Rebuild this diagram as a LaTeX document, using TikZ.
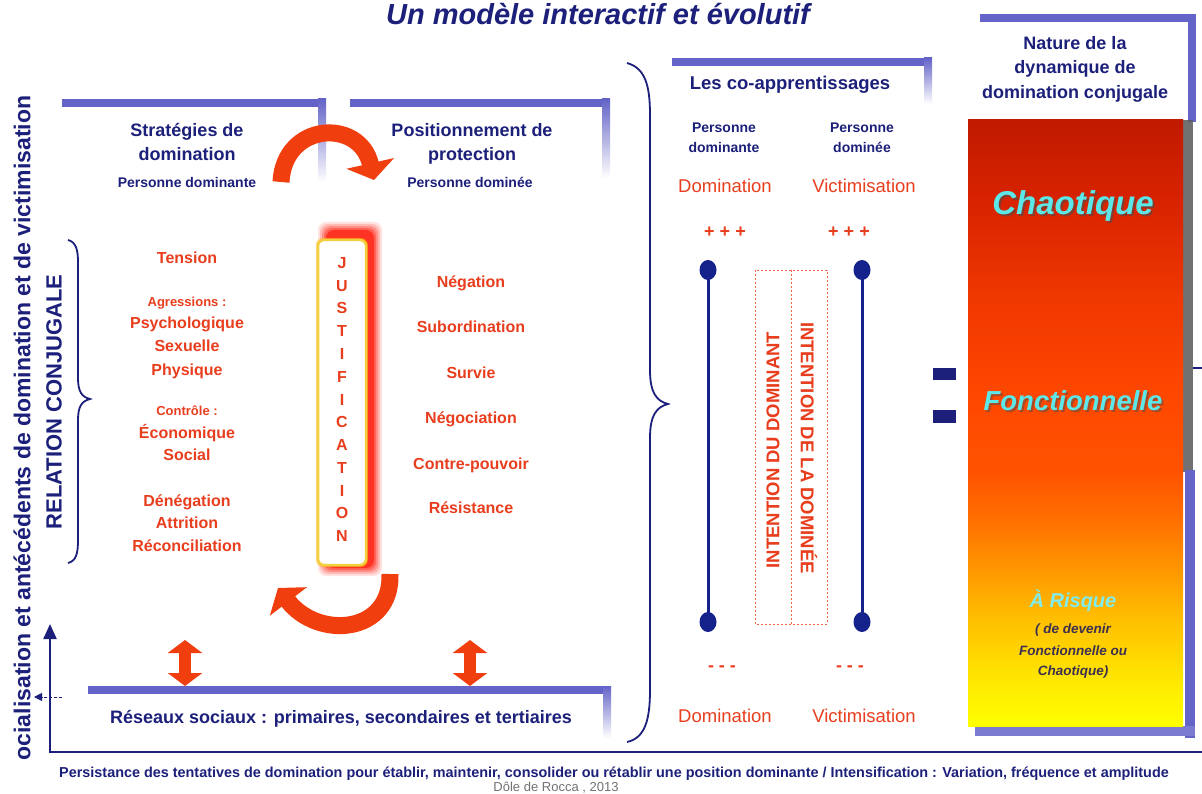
\documentclass[tikz,border=0pt]{standalone}
\usepackage{fontspec}
\setmainfont{Liberation Sans}
\usetikzlibrary{arrows.meta,calc}
\definecolor{navy}{RGB}{28,32,122}
\definecolor{navyd}{RGB}{22,34,140}
\definecolor{lav}{RGB}{100,100,200}
\definecolor{redtxt}{RGB}{232,62,30}
\definecolor{arr}{RGB}{240,62,14}
\definecolor{cyantxt}{RGB}{92,232,232}
\definecolor{cyanpale}{RGB}{130,236,236}
\definecolor{darkit}{RGB}{60,48,80}
\definecolor{jbord}{RGB}{242,208,64}
\definecolor{c0}{RGB}{255,255,0}
\definecolor{c1}{RGB}{255,232,0}
\definecolor{c2}{RGB}{255,192,0}
\definecolor{c3}{RGB}{255,144,0}
\definecolor{c4}{RGB}{255,112,0}
\definecolor{c5}{RGB}{255,82,0}
\definecolor{c6}{RGB}{255,72,0}
\definecolor{c7}{RGB}{240,56,0}
\definecolor{c8}{RGB}{216,34,0}
\definecolor{c9}{RGB}{192,26,0}
\pgfdeclareverticalshading{heat}{100bp}{color(0bp)=(c0); color(25bp)=(c0); color(28.7bp)=(c1); color(33.7bp)=(c2); color(38.65bp)=(c3); color(41.95bp)=(c4); color(46.05bp)=(c5); color(51.85bp)=(c6); color(60.1bp)=(c7); color(68.4bp)=(c8); color(75bp)=(c9); color(100bp)=(c9)}
\newcommand{\fsz}[1]{\fontsize{#1}{#1}\selectfont}
\tikzset{
  every node/.style={inner sep=0pt, outer sep=0pt},
  hdr/.style={text=navy, font=\bfseries\fsz{18}, anchor=base},
  pers/.style={text=navy, font=\bfseries\fsz{14}, anchor=base},
  itm/.style={text=redtxt, font=\bfseries\fsz{16}, anchor=base},
  itms/.style={text=redtxt, font=\bfseries\fsz{13}, anchor=base},
  redreg/.style={text=redtxt, font=\fsz{18.5}, anchor=base},
  sign/.style={text=redtxt, font=\bfseries\fsz{18}, anchor=base},
  jl/.style={text=redtxt, font=\bfseries\fsz{16}, anchor=base},
  brkline/.style={draw=lav, line width=8, line cap=butt},
  curl/.style={draw=arr, line width=17},
  brace/.style={draw=navy, line width=1.8},
  dotline/.style={draw=navyd, line width=3},
}
\begin{document}
\begin{tikzpicture}[x=1pt,y=-1pt]
\useasboundingbox (0,0) rectangle (1202,794);
\clip (0,0) rectangle (1202,794);
\fill[white] (0,0) rectangle (1202,794);

% title
\node[anchor=base, text=navy, font=\bfseries\itshape\fsz{29}] (title) at (598,25) {Un modèle interactif et évolutif};

% left vertical text
\node[rotate=90, text=navy, font=\bfseries\fsz{23}] (soc) at (22,428) {ocialisation et antécédents de domination et de victimisation};

% axes
\coordinate (O) at (50,752);
\coordinate (Ytop) at (50,624);
\coordinate (Xend) at (1202,752);
\draw[navy, line width=2.2, -{Triangle[width=13pt,length=15pt]}] (O) -- (Ytop);
\draw[navy, line width=2.2] (48.9,752) -- (Xend);
\coordinate (da1) at (62,697);
\coordinate (da2) at (34,697);
\draw[navy, densely dashed, line width=1, -{Triangle[width=8pt,length=8pt]}] (da1) -- (da2);

% lavender brackets
\draw[brkline] (62,103) -- (326,103);
\shade[top color=lav, bottom color=white] (318,99) rectangle (326,182);
\draw[brkline] (350,103) -- (610,103);
\shade[top color=lav, bottom color=white] (602,99) rectangle (610,178);
\draw[brkline] (672,62) -- (932,62);
\shade[top color=lav, bottom color=white] (924,58) rectangle (932,104);
\draw[brkline] (88,690) -- (611,690);
\shade[top color=lav, bottom color=white] (603,686) rectangle (611,738);
\draw[brkline] (980,18) -- (1196,18);
\fill[lav] (1188,14) rectangle (1196,122);

% right column
\fill[black!65, opacity=.85] (1183,120) rectangle (1193,472);
\fill[lav] (1185,470) rectangle (1195,738);
\fill[lav!85] (975,726) rectangle (1195,736);
\shade[shading=heat] (968,120) rectangle (1183,726);
\coordinate (rl1) at (1193,368);
\coordinate (rl2) at (1202,368);
\draw[navy, line width=1.5] (rl1) -- (rl2);

\node[hdr] (n1) at (1075,50) {Nature de la};
\node[hdr] (n2) at (1075,74) {dynamique de};
\node[hdr] (n3) at (1075,98.5) {domination conjugale};

\node[anchor=base, text=black!70, opacity=.6, font=\bfseries\itshape\fsz{33}] (chs) at (1075,217) {Chaotique};
\node[anchor=base, text=cyantxt, font=\bfseries\itshape\fsz{33}] (ch) at (1073,215) {Chaotique};
\node[anchor=base, text=black!70, opacity=.5, font=\bfseries\itshape\fsz{27.5}] (fos) at (1075,412) {Fonctionnelle};
\node[anchor=base, text=cyantxt, font=\bfseries\itshape\fsz{27.5}] (fo) at (1073,410) {Fonctionnelle};
\node[anchor=base, text=cyanpale, font=\bfseries\itshape\fsz{20}] (ar) at (1073,607) {À Risque};
\node[anchor=base, text=darkit, font=\bfseries\itshape\fsz{13.5}] (ar1) at (1073,633) {( de devenir};
\node[anchor=base, text=darkit, font=\bfseries\itshape\fsz{13.5}] (ar2) at (1073,655) {Fonctionnelle ou};
\node[anchor=base, text=darkit, font=\bfseries\itshape\fsz{13.5}] (ar3) at (1073,675) {Chaotique)};

% equals
\fill[navy] (933,368) rectangle (956,380);
\fill[navy] (933,410) rectangle (956,423);

% left panel headers
\node[hdr] (s1) at (187,137) {Stratégies de};
\node[hdr] (s2) at (187,161) {domination};
\node[pers] (s3) at (187,188) {Personne dominante};
\node[hdr] (p1) at (472,137) {Positionnement de};
\node[hdr] (p2) at (472,161) {protection};
\node[pers] (p3) at (470,188) {Personne dominée};

% curved arrows
\coordinate (ta1) at (281,182);
\coordinate (ta2) at (374,180);
\draw[curl, -{Triangle[width=48pt,length=17pt]}] (ta1) .. controls (284,122) and (360,118) .. (ta2);
\coordinate (ba1) at (390,574);
\coordinate (ba2) at (278,588);
\draw[curl, -{Triangle[width=46pt,length=17pt]}] (ba1) .. controls (392,634) and (318,640) .. (ba2);

% RELATION CONJUGALE + brace
\node[rotate=90, text=navy, font=\bfseries\fsz{22}] (rc) at (54,402) {RELATION CONJUGALE};
\draw[brace] (68,240) .. controls (76,242) and (78,250) .. (78,262) -- (78,378) .. controls (78,392) and (82,397) .. (90,399) .. controls (82,401) and (78,406) .. (78,420) -- (78,540) .. controls (78,554) and (76,561) .. (68,563);

% left list
\node[itm] (l1) at (187,264) {Tension};
\node[itms] (l2) at (187,307) {Agressions :};
\node[itm] (l3) at (187,329) {Psychologique};
\node[itm] (l4) at (187,352) {Sexuelle};
\node[itm] (l5) at (187,375) {Physique};
\node[itms] (l6) at (187,415) {Contrôle :};
\node[itm] (l7) at (187,438) {Économique};
\node[itm] (l8) at (187,460) {Social};
\node[itm] (l9) at (187,506) {Dénégation};
\node[itm] (l10) at (187,528) {Attrition};
\node[itm] (l11) at (187,551) {Réconciliation};

% right list
\node[itm] (r1) at (471,288) {Négation};
\node[itm] (r2) at (471,333) {Subordination};
\node[itm] (r3) at (471,378) {Survie};
\node[itm] (r4) at (471,423) {Négociation};
\node[itm] (r5) at (471,469) {Contre-pouvoir};
\node[itm] (r6) at (471,513) {Résistance};

% JUSTIFICATION box
\foreach \k/\o in {8/0.12,6/0.18,4/0.25,2/0.35,0/0.6} {
  \fill[red!85!orange, opacity=\o, rounded corners=8] (326-\k,230-\k) rectangle (374+\k,568+\k);
}
\fill[orange!60!yellow, opacity=.5, rounded corners=7] (316,238) rectangle (368,567);
\draw[jbord, line width=2.5, fill=white, rounded corners=6] (318,240) rectangle (366,565);
\foreach \L [count=\i from 0] in {J,U,S,T,I,F,I,C,A,T,I,O,N} {
  \node[jl] (j\i) at (342,{268.5+\i*22.75}) {\L};
}

% double arrows
\coordinate (da3) at (185,640);
\coordinate (da4) at (185,686);
\coordinate (da5) at (470,640);
\coordinate (da6) at (470,686);
\draw[arr, line width=12, {Triangle[width=34pt,length=13pt]}-{Triangle[width=34pt,length=13pt]}] (da3) -- (da4);
\draw[arr, line width=12, {Triangle[width=34pt,length=13pt]}-{Triangle[width=34pt,length=13pt]}] (da5) -- (da6);

\node[anchor=base, text=navy, font=\bfseries\fsz{18}] (res) at (341,723.5) {Réseaux sociaux : primaires, secondaires et tertiaires};

% big brace
\draw[brace] (627,63) .. controls (645,68) and (650,85) .. (650,115) -- (650,370) .. controls (650,392) and (656,401) .. (668,404) .. controls (656,407) and (650,416) .. (650,438) -- (650,690) .. controls (650,720) and (645,738) .. (627,742);

% co-apprentissages
\node[anchor=base, text=navy, font=\bfseries\fsz{18.5}] (co) at (790,90) {Les co-apprentissages};
\node[pers] (c1) at (724,133) {Personne};
\node[pers] (c2) at (724,153) {dominante};
\node[pers] (c3) at (862,133) {Personne};
\node[pers] (c4) at (862,153) {dominée};
\node[redreg] (d1) at (725,192.5) {Domination};
\node[redreg] (v1) at (864,192.5) {Victimisation};
\node[sign] (pl1) at (725,238) {+ + +};
\node[sign] (pl2) at (849,238) {+ + +};
\node[sign] (mi1) at (722,671) {- - -};
\node[sign] (mi2) at (850,671) {- - -};
\node[redreg] (d2) at (725,722.5) {Domination};
\node[redreg] (v2) at (864,722.5) {Victimisation};

% lines with dots
\coordinate (la) at (708,270);
\coordinate (lb) at (708,622);
\coordinate (ra) at (862,270);
\coordinate (rb) at (862,622);
\draw[dotline] (la) -- (lb);
\draw[dotline] (ra) -- (rb);
\foreach \p in {la,lb,ra,rb} { \fill[navyd] (\p) ellipse (8.5 and 10); }

% dashed intention boxes
\draw[redtxt!80, line width=0.9, dash pattern=on 2pt off 2pt] (755,270) rectangle (827,624);
\draw[redtxt!80, line width=0.9, dash pattern=on 2pt off 2pt] (791,270) -- (791,624);
\node[rotate=90, text=redtxt, font=\bfseries\fsz{18.5}] (i1) at (773,450) {INTENTION DU DOMINANT};
\node[rotate=-90, text=redtxt, font=\bfseries\fsz{18.5}] (i2) at (809,448) {INTENTION DE LA DOMINÉE};

% bottom texts
\node[anchor=base, text=navy, font=\bfseries\fsz{14.4}] (bt) at (614,777) {Persistance des tentatives de domination pour établir, maintenir, consolider ou rétablir une position dominante / Intensification : Variation, fréquence et amplitude};
\node[anchor=base, text=black!55, font=\fsz{13}] (src) at (556,791) {Dôle de Rocca , 2013};
\end{tikzpicture}
\end{document}
